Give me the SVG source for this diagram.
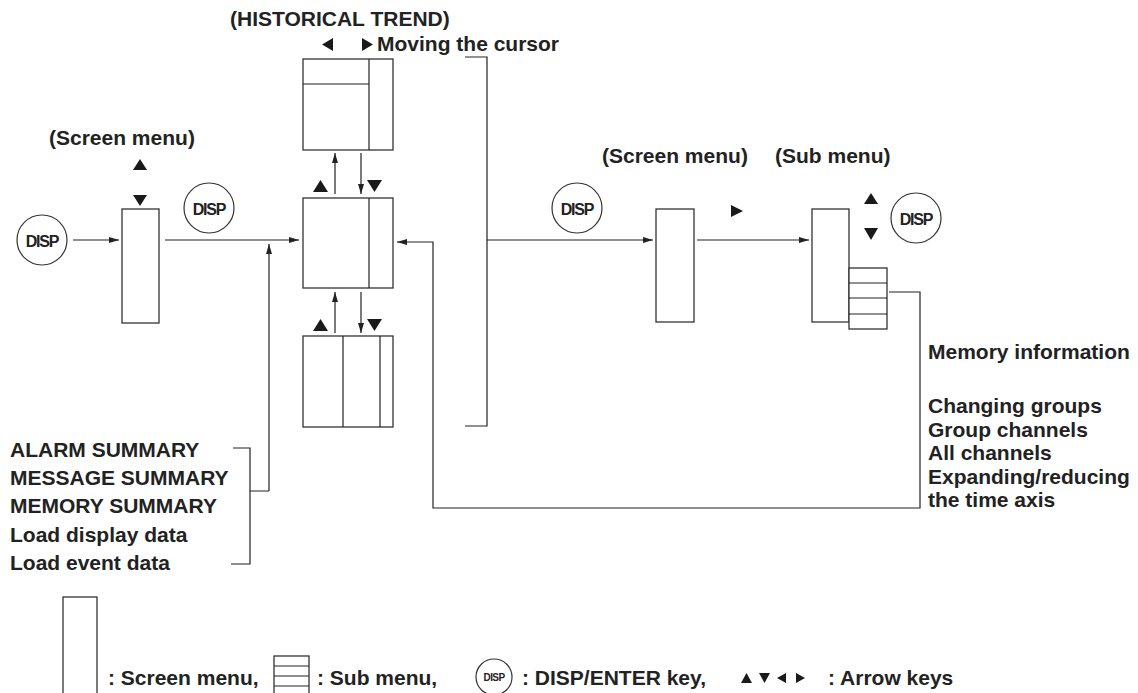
<svg xmlns="http://www.w3.org/2000/svg" width="1138" height="693" viewBox="0 0 1138 693">
<defs>
<marker id="ah" viewBox="0 0 10 6" refX="10" refY="3" markerWidth="10" markerHeight="6" markerUnits="userSpaceOnUse" orient="auto">
<path d="M0,0 L10,3 L0,6 z" fill="#222"/>
</marker>
<style>
.t{font-family:"Liberation Sans",Arial,sans-serif;font-weight:bold;font-size:21px;fill:#222}
.d{font-family:"Liberation Sans",Arial,sans-serif;font-weight:bold;font-size:16px;fill:#222;letter-spacing:-1.2px}
.ds{font-family:"Liberation Sans",Arial,sans-serif;font-weight:bold;font-size:10px;fill:#222;letter-spacing:-0.6px}
.b{fill:#fff;stroke:#333;stroke-width:1.3}
.c{fill:#fff;stroke:#333;stroke-width:1.2}
.l{fill:none;stroke:#222;stroke-width:1.2}
.a{fill:none;stroke:#222;stroke-width:1.2;marker-end:url(#ah)}
.tri{fill:#1a1a1a}
</style>
</defs>
<rect width="1138" height="693" fill="#fff"/>

<g id="connectors">
<path class="a" d="M73,240 H119"/>
<path class="a" d="M165,240 H299"/>
<path class="a" d="M269,491 V244"/>
<path class="l" d="M233,448 H250 V564 H231 M250,491 H269"/>
<path class="a" d="M335,194 V153"/>
<path class="a" d="M361,153 V194"/>
<path class="a" d="M335,333 V292"/>
<path class="a" d="M361,292 V333"/>
<path class="l" d="M465,57 H487 V426 H465"/>
<path class="a" d="M487,240 H653"/>
<path class="a" d="M697,240 H809"/>
<path class="a" d="M889,292 H920 V508 H433 V242 H397"/>
</g>

<g id="disp1"><circle class="c" cx="42" cy="240" r="25"/><text class="d" x="42" y="246.5" text-anchor="middle">DISP</text></g>
<g id="disp2"><circle class="c" cx="209" cy="208" r="25"/><text class="d" x="209" y="214.5" text-anchor="middle">DISP</text></g>
<g id="disp3"><circle class="c" cx="577" cy="208" r="25"/><text class="d" x="577" y="214.5" text-anchor="middle">DISP</text></g>
<g id="disp4"><circle class="c" cx="916" cy="218" r="25"/><text class="d" x="916" y="224.5" text-anchor="middle">DISP</text></g>

<g id="screen-menu-1">
<rect class="b" x="122" y="209" width="37" height="114"/>
<polygon class="tri" points="140,159 147,170 133,170"/>
<polygon class="tri" points="133,195 147,195 140,206"/>
<text class="t" x="49" y="145">(Screen menu)</text>
</g>

<g id="trend-top">
<rect class="b" x="303" y="59" width="90" height="91"/>
<path class="l" d="M369,59 V150 M303,84 H369"/>
</g>
<g id="trend-mid">
<rect class="b" x="303" y="198" width="90" height="90"/>
<path class="l" d="M369,198 V288"/>
<polygon class="tri" points="320.5,180 328,192 313,192"/>
<polygon class="tri" points="367,180 382,180 374.5,192"/>
</g>
<g id="trend-bottom">
<rect class="b" x="303" y="336" width="90" height="91"/>
<path class="l" d="M343,336 V427 M380,336 V427"/>
<polygon class="tri" points="320.5,319 328,331 313,331"/>
<polygon class="tri" points="367,319 382,319 374.5,331"/>
</g>
<g id="historical-title">
<text class="t" x="230" y="26">(HISTORICAL TREND)</text>
<polygon class="tri" points="333,38 333,51 322,44.5"/>
<polygon class="tri" points="362,38 373,44.5 362,51"/>
<text class="t" x="377" y="51">Moving the cursor</text>
</g>

<g id="left-list">
<text class="t" x="10" y="457">ALARM SUMMARY</text>
<text class="t" x="10" y="485">MESSAGE SUMMARY</text>
<text class="t" x="10" y="513">MEMORY SUMMARY</text>
<text class="t" x="10" y="542">Load display data</text>
<text class="t" x="10" y="570">Load event data</text>
</g>

<g id="screen-menu-2">
<rect class="b" x="656" y="209" width="38" height="113"/>
<text class="t" x="602" y="163">(Screen menu)</text>
<polygon class="tri" points="731,205 743,211 731,217"/>
</g>

<g id="sub-menu">
<rect class="b" x="812" y="209" width="37" height="113"/>
<rect class="b" x="849" y="268" width="38" height="61"/>
<path class="l" d="M849,283 H887 M849,298 H887 M849,314 H887"/>
<polygon class="tri" points="871,193 878,204 864,204"/>
<polygon class="tri" points="864,228 878,228 871,240"/>
<text class="t" x="775" y="163">(Sub menu)</text>
</g>

<g id="right-list">
<text class="t" x="928" y="359">Memory information</text>
<text class="t" x="928" y="413">Changing groups</text>
<text class="t" x="928" y="436.5">Group channels</text>
<text class="t" x="928" y="460">All channels</text>
<text class="t" x="928" y="483.5">Expanding/reducing</text>
<text class="t" x="928" y="507">the time axis</text>
</g>

<g id="legend">
<rect class="b" x="63" y="597" width="34" height="100"/>
<text class="t" x="108" y="685">: Screen menu,</text>
<rect class="b" x="274" y="656" width="35" height="41"/>
<path class="l" d="M274,666 H309 M274,676 H309 M274,686 H309"/>
<text class="t" x="317" y="685">: Sub menu,</text>
<circle class="c" cx="494" cy="677" r="18" stroke-width="1"/>
<text class="ds" x="494" y="681" text-anchor="middle">DISP</text>
<text class="t" x="522" y="685">: DISP/ENTER key,</text>
<polygon class="tri" points="746.5,673 752,683 741,683"/>
<polygon class="tri" points="759,673 770,673 764.5,683"/>
<polygon class="tri" points="786,673 786,683 777,678"/>
<polygon class="tri" points="796,673 805,678 796,683"/>
<text class="t" x="828" y="685">: Arrow keys</text>
</g>
</svg>
